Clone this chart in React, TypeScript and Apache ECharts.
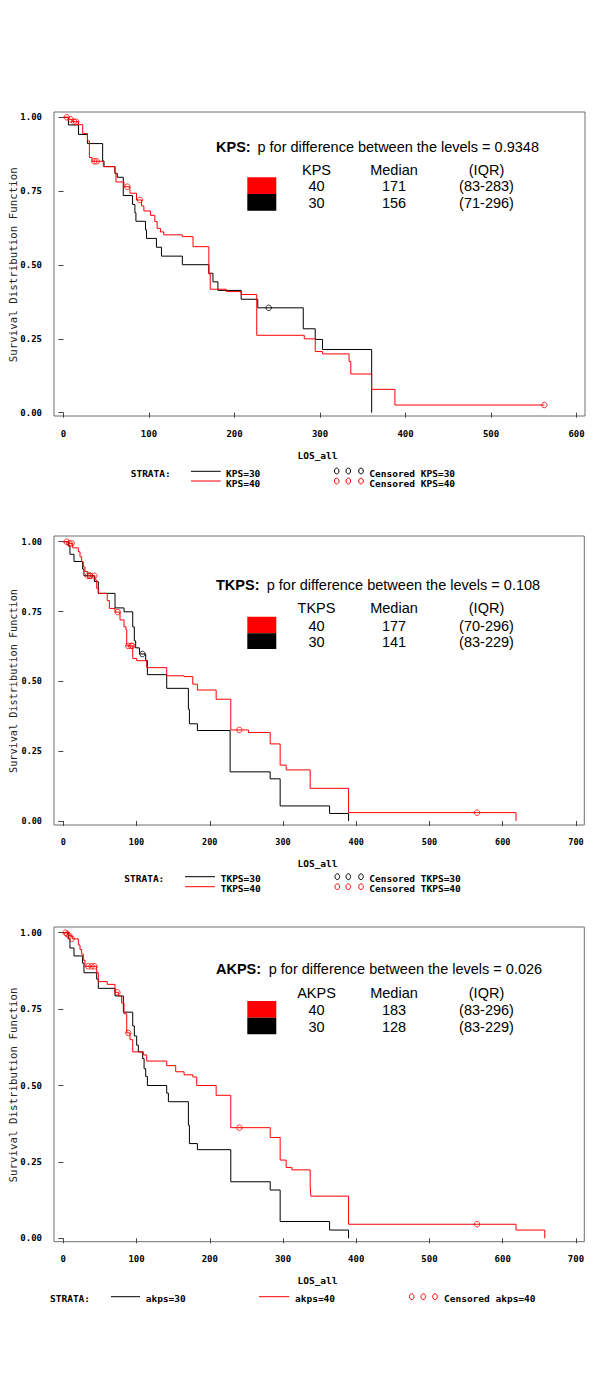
import React, { useEffect, useRef } from "react";
import * as echarts from "echarts";

// ---------- data ----------
const xTicksKPS = [0, 100, 200, 300, 400, 500, 600];
const xTicksLong = [0, 100, 200, 300, 400, 500, 600, 700];
const yTicks = [0, 0.25, 0.5, 0.75, 1];

// Panel 1: KPS
const kps30Time = [0, 5.8, 17.5, 28, 45.8, 47.4, 60.2, 62.9, 69.9, 80.8, 83.5, 84.7, 95.9, 97.1, 108.7, 114.6, 139, 170, 174.8, 180.6, 207.8, 227.2, 280.4, 294.4, 302.9, 360.4];
const kps30Surv = [1, 0.974, 0.942, 0.911, 0.852, 0.833, 0.81, 0.797, 0.735, 0.705, 0.677, 0.648, 0.619, 0.59, 0.56, 0.53, 0.501, 0.472, 0.443, 0.414, 0.384, 0.355, 0.284, 0.248, 0.214, 0];
const kps30CensTime = [240];
const kps30CensSurv = [0.355];
const kps40Time = [0, 5.8, 10.9, 17.5, 22.5, 28, 30.3, 33.4, 46.6, 60.2, 61.4, 70.7, 77.7, 85.4, 91.3, 94, 101.7, 106.8, 109.5, 113.4, 117.3, 139, 151.5, 170, 171.6, 190.3, 207.8, 226, 281.6, 294.4, 302.9, 334, 336, 360.4, 387.6, 562.3];
const kps40Surv = [1, 0.993, 0.985, 0.975, 0.945, 0.92, 0.864, 0.851, 0.833, 0.812, 0.781, 0.765, 0.743, 0.72, 0.7, 0.683, 0.668, 0.647, 0.624, 0.612, 0.602, 0.596, 0.562, 0.47, 0.418, 0.41, 0.4, 0.262, 0.25, 0.207, 0.199, 0.173, 0.131, 0.079, 0.026, 0.026];
const kps40CensTime = [3.9, 8.5, 12.4, 14.8, 36.1, 38.8, 74.6, 89.3, 562.3];
const kps40CensSurv = [1, 0.993, 0.985, 0.985, 0.851, 0.851, 0.765, 0.72, 0.026];

// Panel 2: TKPS
const tkps30Time = [0, 6.8, 9.1, 14.6, 26.4, 28.2, 42.4, 47.8, 70.6, 82.9, 94.8, 97, 98.8, 104, 112.5, 114.8, 141.2, 170.8, 172.2, 183.1, 227.8, 282.5, 296.1, 363.6, 389.5];
const tkps30Surv = [1, 0.985, 0.955, 0.929, 0.902, 0.878, 0.857, 0.815, 0.763, 0.749, 0.695, 0.645, 0.62, 0.598, 0.575, 0.524, 0.475, 0.4, 0.348, 0.324, 0.176, 0.151, 0.054, 0.027, 0];
const tkps30CensTime = [36.4, 108];
const tkps30CensSurv = [0.878, 0.598];
const tkps40Time = [0, 6.8, 12.8, 20.5, 22.8, 25, 27.3, 29.6, 33.5, 43.3, 45.6, 47.8, 60, 62.9, 70.6, 77.4, 82.9, 85.6, 86.6, 94.8, 100.2, 113.9, 141.2, 164.9, 176.8, 183.1, 208.7, 228.7, 252.8, 282.5, 296.1, 304.3, 337.1, 389.5, 618.2];
const tkps40Surv = [1, 0.994, 0.978, 0.964, 0.946, 0.928, 0.91, 0.893, 0.878, 0.863, 0.833, 0.815, 0.789, 0.761, 0.748, 0.72, 0.695, 0.684, 0.627, 0.582, 0.574, 0.549, 0.52, 0.517, 0.49, 0.469, 0.436, 0.326, 0.317, 0.276, 0.2, 0.183, 0.117, 0.03, 0];
const tkps40CensTime = [4.6, 8.2, 11.4, 33.5, 36.4, 42.4, 74.2, 88.8, 92.5, 94.2, 240.5, 565];
const tkps40CensSurv = [1, 0.994, 0.994, 0.878, 0.878, 0.878, 0.748, 0.627, 0.627, 0.627, 0.326, 0.03];

// Panel 3: AKPS
const akps30Time = [0, 6.8, 9.1, 14.6, 26.4, 28.2, 45.6, 47.8, 70.6, 82, 94.8, 97, 100.2, 102.5, 108.4, 110.3, 112.5, 114.8, 141.2, 143.5, 170.8, 172.2, 183.1, 228.7, 282.5, 296.1, 363.6, 389.5];
const akps30Surv = [1, 0.98, 0.95, 0.924, 0.9, 0.869, 0.848, 0.818, 0.793, 0.74, 0.695, 0.662, 0.632, 0.61, 0.588, 0.555, 0.53, 0.5, 0.475, 0.447, 0.37, 0.31, 0.29, 0.185, 0.158, 0.055, 0.027, 0];
const akps40Time = [0, 5.9, 8.2, 12.3, 20.5, 22.8, 25, 27.3, 29.6, 45.6, 47.8, 60, 70.6, 75.2, 79.7, 82.9, 86.6, 91.1, 94.8, 109.3, 113.9, 141.2, 153.5, 164.9, 176.8, 182.2, 208.7, 228.7, 282.5, 296.1, 304.3, 312.1, 337.1, 338, 389.5, 618.2, 657.4];
const akps40Surv = [1, 0.995, 0.99, 0.98, 0.96, 0.945, 0.93, 0.91, 0.89, 0.87, 0.84, 0.831, 0.805, 0.793, 0.77, 0.735, 0.672, 0.65, 0.61, 0.6, 0.58, 0.565, 0.545, 0.535, 0.528, 0.5, 0.468, 0.362, 0.33, 0.256, 0.232, 0.224, 0.169, 0.138, 0.046, 0.027, 0];
const akps40CensTime = [3.2, 5.5, 8.2, 11.4, 34.2, 38.7, 42.4, 73.8, 88.8, 240.5, 565];
const akps40CensSurv = [1, 0.995, 0.99, 0.98, 0.89, 0.89, 0.89, 0.805, 0.672, 0.362, 0.046];

// annotation texts
const kpsTable = { label: "KPS", title: "KPS:", p: "p for difference between the levels = 0.9348", rows: [["40", "171", "(83-283)"], ["30", "156", "(71-296)"]] };
const tkpsTable = { label: "TKPS", title: "TKPS:", p: "p for difference between the levels = 0.108", rows: [["40", "177", "(70-296)"], ["30", "141", "(83-229)"]] };
const akpsTable = { label: "AKPS", title: "AKPS:", p: "p for difference between the levels = 0.026", rows: [["40", "183", "(83-296)"], ["30", "128", "(83-229)"]] };

// ---------- styling / layout ----------
const RED = "#ff0000";
const BLACK = "#000000";
const MONO = '"DejaVu Sans Mono", monospace';
const SANS = '"Liberation Sans", Arial, sans-serif';

const zip = (t: number[], s: number[]) => t.map((v, i) => [v, s[i]]);

type Panel = {
  grid: { left: number; top: number; width: number; height: number };
  xMin: number; xMax: number; yMin: number; yMax: number;
  xTicks: number[]; xLabelMargin: number; tickFont: number;
};

const panels: Panel[] = [
  { grid: { left: 54, top: 112, width: 531, height: 304 }, xMin: -11.1, xMax: 609.9, yMin: -0.0112, yMax: 1.0179, xTicks: xTicksKPS, xLabelMargin: 13, tickFont: 9 },
  { grid: { left: 54, top: 536, width: 530.3, height: 289 }, xMin: -12.7, xMax: 711.4, yMin: -0.0143, yMax: 1.0204, xTicks: xTicksLong, xLabelMargin: 12, tickFont: 8.5 },
  { grid: { left: 54, top: 927, width: 530.3, height: 314.7 }, xMin: -12.7, xMax: 711.4, yMin: -0.0111, yMax: 1.0187, xTicks: xTicksLong, xLabelMargin: 13, tickFont: 9 },
];

function txt(text: string, x: number, y: number, font: string, align = "left", fill = "#000", extra: any = {}) {
  return { type: "text", x, y, silent: true, ...extra, style: { text, fill, font, align, verticalAlign: "middle" } };
}

function annotation(tbl: any, titleY: number, pX: number, headY: number, row1Y: number, row2Y: number, boxTop: number, boxMid: number, boxBot: number) {
  const f = `14.5px ${SANS}`;
  const fb = `bold 14.5px ${SANS}`;
  const cols = [316.5, 394, 486.5];
  const els: any[] = [
    txt(tbl.title, 216, titleY, fb),
    txt(tbl.p, pX, titleY, f),
    txt(tbl.label, cols[0], headY, f, "center"),
    txt("Median", cols[1], headY, f, "center"),
    txt("(IQR)", cols[2], headY, f, "center"),
    { type: "rect", silent: true, shape: { x: 247.3, y: boxTop, width: 29, height: boxMid - boxTop }, style: { fill: RED } },
    { type: "rect", silent: true, shape: { x: 247.3, y: boxMid, width: 29, height: boxBot - boxMid }, style: { fill: BLACK } },
  ];
  tbl.rows.forEach((r: string[], i: number) => {
    const yy = i === 0 ? row1Y : row2Y;
    r.forEach((c, j) => els.push(txt(c, cols[j], yy, f, "center")));
  });
  return els;
}

function circles3(xs: number[], y: number, color: string) {
  return xs.map((cx) => ({ type: "ellipse", silent: true, shape: { cx, cy: y, rx: 2.3, ry: 2.9 }, style: { fill: "none", stroke: color, lineWidth: 1 } }));
}

function legendLine(x1: number, x2: number, y: number, color: string) {
  return { type: "line", silent: true, shape: { x1, y1: y, x2, y2: y }, style: { stroke: color, lineWidth: 1 } };
}

export default function App() {
  const ref = useRef<HTMLDivElement>(null);

  useEffect(() => {
    if (!ref.current) return;
    const chart = echarts.init(ref.current, undefined, { renderer: "svg" });
    const lf = `bold 9.5px ${MONO}`;

    const grids = panels.map((p) => ({ ...p.grid, show: true, borderColor: "#6e6e6e", borderWidth: 1, backgroundColor: "transparent", containLabel: false }));
    const xAxes = panels.map((p, i) => ({
      type: "value", gridIndex: i, min: p.xMin, max: p.xMax,
      axisLine: { show: false },
      axisTick: { show: true, customValues: p.xTicks, length: 5, lineStyle: { color: "#444", width: 1 } },
      axisLabel: { customValues: p.xTicks, margin: p.xLabelMargin, fontFamily: MONO, fontWeight: "bold", fontSize: p.tickFont, color: "#000" },
      splitLine: { show: false },
    }));
    const yAxes = panels.map((p, i) => ({
      type: "value", gridIndex: i, min: p.yMin, max: p.yMax,
      axisLine: { show: false },
      axisTick: { show: true, customValues: yTicks, length: 5, lineStyle: { color: "#444", width: 1 } },
      axisLabel: { customValues: yTicks, margin: 12, fontFamily: MONO, fontWeight: "bold", fontSize: p.tickFont, color: "#000", formatter: (v: number) => v.toFixed(2) },
      splitLine: { show: false },
    }));

    const lineS = (i: number, t: number[], s: number[], color: string) => ({
      type: "line", xAxisIndex: i, yAxisIndex: i, data: zip(t, s), step: "end", symbol: "none", showSymbol: false, silent: true,
      lineStyle: { color, width: 1 },
    });
    const censS = (i: number, t: number[], s: number[], color: string) => ({
      type: "scatter", xAxisIndex: i, yAxisIndex: i, data: zip(t, s), symbol: "circle", symbolSize: 5.5, silent: true, z: 3,
      itemStyle: { color: "rgba(255,255,255,0)", borderColor: color, borderWidth: 1 },
    });

    const series = [
      lineS(0, kps30Time, kps30Surv, BLACK),
      lineS(0, kps40Time, kps40Surv, RED),
      censS(0, kps30CensTime, kps30CensSurv, BLACK),
      censS(0, kps40CensTime, kps40CensSurv, RED),
      lineS(1, tkps30Time, tkps30Surv, BLACK),
      lineS(1, tkps40Time, tkps40Surv, RED),
      censS(1, tkps30CensTime, tkps30CensSurv, BLACK),
      censS(1, tkps40CensTime, tkps40CensSurv, RED),
      lineS(2, akps30Time, akps30Surv, BLACK),
      lineS(2, akps40Time, akps40Surv, RED),
      censS(2, akps40CensTime, akps40CensSurv, RED),
    ];

    const yTitle = (cy: number, size: number) =>
      txt("Survival Distribution Function", 13.7, cy, `${size}px ${MONO}`, "center", "#222", { rotation: Math.PI / 2 });

    const graphic: any[] = [
      // panel 1
      ...annotation(kpsTable, 146.5, 257.5, 169.5, 186.3, 203, 177.3, 194, 210.7),
      yTitle(264.8, 10.8),
      txt("LOS_all", 317.5, 455.7, lf, "center"),
      txt("STRATA:", 130.7, 473.7, lf),
      legendLine(191, 220.7, 471.3, BLACK),
      legendLine(191, 220.7, 481, RED),
      txt("KPS=30", 226, 473.7, lf),
      txt("KPS=40", 226, 483.7, lf),
      ...circles3([336.7, 348.3, 361], 471, BLACK),
      ...circles3([336.7, 348.3, 361], 481, RED),
      txt("Censored KPS=30", 369.3, 473.7, lf),
      txt("Censored KPS=40", 369.3, 483.7, lf),
      // panel 2
      ...annotation(tkpsTable, 584.5, 266.7, 608.3, 625.7, 642.3, 616.7, 633.3, 649),
      yTitle(681, 10.2),
      txt("LOS_all", 317.5, 863.3, lf, "center"),
      txt("STRATA:", 124.3, 878.7, lf),
      legendLine(185, 215, 876.7, BLACK),
      legendLine(185, 215, 886.7, RED),
      txt("TKPS=30", 220.7, 878.7, lf),
      txt("TKPS=40", 220.7, 888.7, lf),
      ...circles3([337.3, 348.3, 361], 876.7, BLACK),
      ...circles3([337.3, 348.3, 361], 886.7, RED),
      txt("Censored TKPS=30", 369.3, 878.7, lf),
      txt("Censored TKPS=40", 369.3, 888.7, lf),
      // panel 3
      ...annotation(akpsTable, 969.3, 268.7, 993, 1010, 1026.7, 1001, 1017.7, 1034.3),
      yTitle(1085, 10.8),
      txt("LOS_all", 317.5, 1280.7, lf, "center"),
      txt("STRATA:", 50, 1298.7, lf),
      legendLine(111, 140, 1296.7, BLACK),
      txt("akps=30", 145.7, 1298.7, lf),
      legendLine(259, 289.3, 1296.7, RED),
      txt("akps=40", 295, 1298.7, lf),
      ...circles3([411.7, 423.3, 435], 1296.7, RED),
      txt("Censored akps=40", 444, 1298.7, lf),
    ];

    chart.setOption({
      animation: false,
      backgroundColor: "#ffffff",
      grid: grids,
      xAxis: xAxes,
      yAxis: yAxes,
      series,
      graphic,
    } as any);

    return () => chart.dispose();
  }, []);

  return <div ref={ref} style={{ position: "absolute", left: 0, top: 0, width: 600, height: 1391, background: "#fff" }} />;
}
